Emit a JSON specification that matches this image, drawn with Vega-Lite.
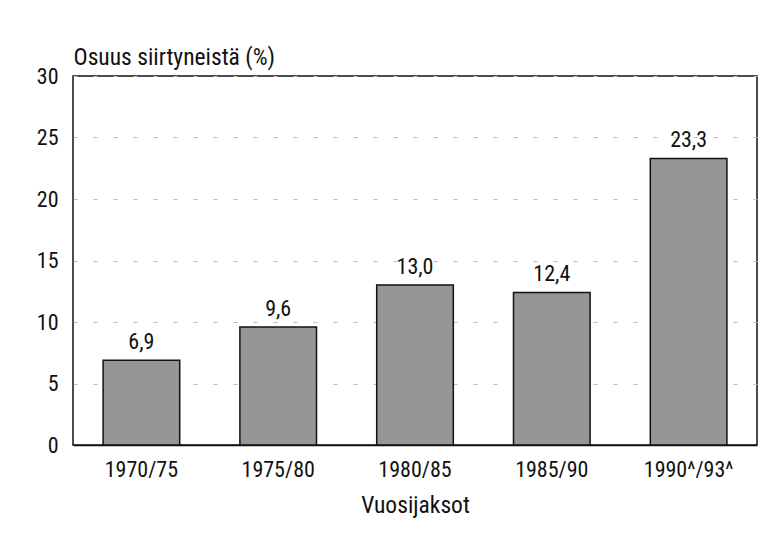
{
  "$schema": "https://vega.github.io/schema/vega-lite/v6.json",
  "width": 684,
  "height": 369,
  "autosize": "none",
  "padding": {"left": 73, "top": 76, "right": 22, "bottom": 114},
  "background": "white",
  "config": {
    "font": "'Roboto Condensed', 'DejaVu Sans Condensed', 'Liberation Sans Narrow', sans-serif",
    "view": {"stroke": "#111", "strokeWidth": 1.5},
    "locale": {"number": {"decimal": ",", "thousands": " ", "grouping": [3], "currency": ["", " €"]}}
  },
  "data": {
    "values": [
      {"jakso": "1970/75", "osuus": 6.9},
      {"jakso": "1975/80", "osuus": 9.6},
      {"jakso": "1980/85", "osuus": 13.0},
      {"jakso": "1985/90", "osuus": 12.4},
      {"jakso": "1990^/93^", "osuus": 23.3}
    ]
  },
  "encoding": {
    "x": {
      "field": "jakso", "type": "nominal", "sort": null,
      "scale": {"paddingInner": 0.44, "paddingOuter": 0.22},
      "axis": {
        "title": "Vuosijaksot", "labelAngle": 0, "ticks": false,
        "labelFontSize": 22, "labelColor": "#111", "labelPadding": 14,
        "titleFontSize": 23.5, "titleFontWeight": "normal", "titleColor": "#111", "titlePadding": 13,
        "domainColor": "#111", "domainWidth": 1.5
      }
    },
    "y": {
      "field": "osuus", "type": "quantitative",
      "scale": {"domain": [0, 30], "nice": false},
      "axis": {
        "title": "Osuus siirtyneistä (%)", "values": [0, 5, 10, 15, 20, 25, 30],
        "ticks": false, "domain": false,
        "labelFontSize": 22, "labelColor": "#111", "labelPadding": 15,
        "titleAngle": 0, "titleAlign": "left", "titleBaseline": "alphabetic",
        "titleX": 0, "titleY": -12, "titleFontSize": 23.5, "titleFontWeight": "normal", "titleColor": "#111",
        "grid": true, "gridColor": "#bbbbbb", "gridDash": [4, 16], "gridWidth": 1
      }
    }
  },
  "layer": [
    {"mark": {"type": "bar", "fill": "#969696", "stroke": "#111", "strokeWidth": 1.5}},
    {
      "mark": {"type": "text", "baseline": "alphabetic", "dy": -11, "fontSize": 22, "fill": "#111"},
      "encoding": {"text": {"field": "osuus", "type": "quantitative", "format": ".1f"}}
    }
  ]
}
